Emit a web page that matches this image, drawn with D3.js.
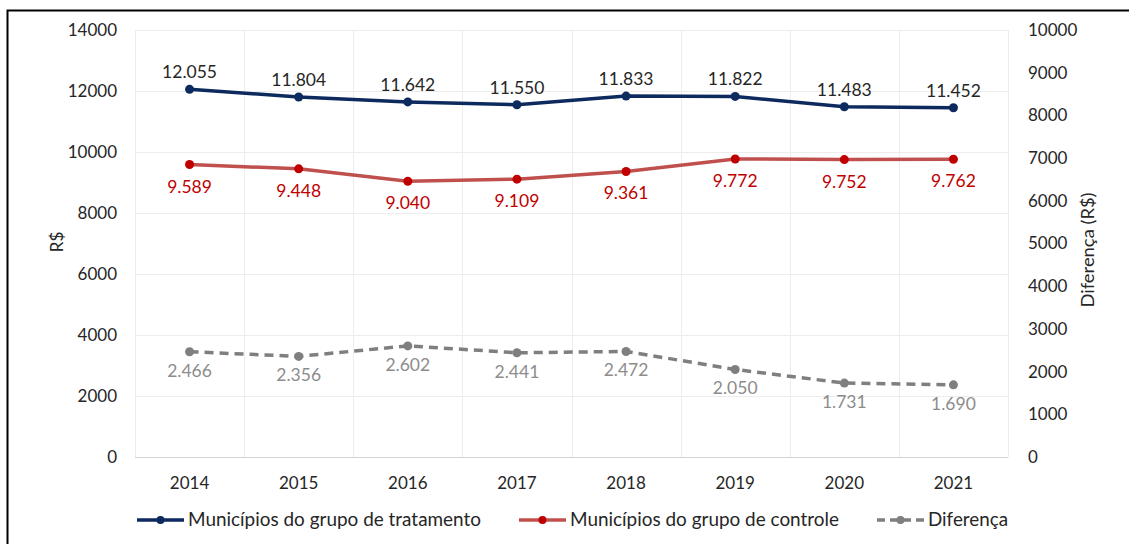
<!DOCTYPE html>
<html>
<head>
<meta charset="utf-8">
<script src="https://cdn.jsdelivr.net/npm/d3@7"></script>
<style>
  html, body { margin: 0; padding: 0; background: #ffffff; }
  svg { display: block; font-family: "Lato", "Open Sans", sans-serif; }
</style>
</head>
<body>
<svg id="chart" width="1129" height="544"></svg>
<script>
// Anos e séries (R$)
const years = ["2014", "2015", "2016", "2017", "2018", "2019", "2020", "2021"];
const tratamento = [12055, 11804, 11642, 11550, 11833, 11822, 11483, 11452];
const controle = [9589, 9448, 9040, 9109, 9361, 9772, 9752, 9762];
const diferenca = [2466, 2356, 2602, 2441, 2472, 2050, 1731, 1690];
const leftTicks = [0, 2000, 4000, 6000, 8000, 10000, 12000, 14000];
const rightTicks = [0, 1000, 2000, 3000, 4000, 5000, 6000, 7000, 8000, 9000, 10000];
const seriesNames = ["Municípios do grupo de tratamento", "Municípios do grupo de controle", "Diferença"];

const fmt = v => d3.format(",")(v).replace(/,/g, ".");

const svg = d3.select("#chart");
const W = 1129, H = 544;
const plot = { left: 135, right: 1008, top: 30, bottom: 457 };
const textColor = "#262626";
const tickSize = 17;

// moldura externa
svg.append("rect")
  .attr("x", 7.5).attr("y", 10.5)
  .attr("width", W + 20).attr("height", H + 20)
  .attr("fill", "none").attr("stroke", "#000").attr("stroke-width", 2);

const x = d3.scaleBand().domain(years).range([plot.left, plot.right]);
const yL = d3.scaleLinear().domain([0, 14000]).range([plot.bottom, plot.top]);
const yR = d3.scaleLinear().domain([0, 10000]).range([plot.bottom, plot.top]);

// grade horizontal
svg.append("g").selectAll("line").data(leftTicks).join("line")
  .attr("x1", plot.left).attr("x2", plot.right)
  .attr("y1", d => Math.round(yL(d)) + 0.5).attr("y2", d => Math.round(yL(d)) + 0.5)
  .attr("stroke", d => d === 0 ? "#d4d4d4" : "#ededed").attr("stroke-width", 1);

// grade vertical nas divisões das categorias
const bounds = years.map(y => x(y)).concat([plot.right]);
svg.append("g").selectAll("line").data(bounds).join("line")
  .attr("x1", d => Math.round(d) + 0.5).attr("x2", d => Math.round(d) + 0.5)
  .attr("y1", plot.top).attr("y2", plot.bottom)
  .attr("stroke", "#ededed").attr("stroke-width", 1);

// eixo esquerdo
const axL = svg.append("g").attr("transform", `translate(${plot.left},0)`)
  .call(d3.axisLeft(yL).tickValues(leftTicks).tickSize(0).tickPadding(18).tickFormat(d3.format("d")));
axL.select(".domain").remove();
axL.selectAll("text").attr("font-size", tickSize).attr("fill", textColor).attr("font-family", "Lato");

// eixo direito
const axR = svg.append("g").attr("transform", `translate(${plot.right},0)`)
  .call(d3.axisRight(yR).tickValues(rightTicks).tickSize(0).tickPadding(20).tickFormat(d3.format("d")));
axR.select(".domain").remove();
axR.selectAll("text").attr("font-size", tickSize).attr("fill", textColor).attr("font-family", "Lato");

// eixo x
const axX = svg.append("g").attr("transform", `translate(0,${plot.bottom})`)
  .call(d3.axisBottom(x).tickSize(0).tickPadding(20));
axX.select(".domain").remove();
axX.selectAll("text").attr("font-size", tickSize).attr("fill", textColor).attr("font-family", "Lato");

// títulos dos eixos
svg.append("text").attr("transform", "translate(63,242) rotate(-90)")
  .attr("text-anchor", "middle").attr("font-size", tickSize).attr("fill", textColor).text("R$");
svg.append("text").attr("transform", "translate(1094,250) rotate(-90)")
  .attr("text-anchor", "middle").attr("font-size", tickSize).attr("fill", textColor)
  .attr("textLength", 115).attr("lengthAdjust", "spacingAndGlyphs").text("Diferença (R$)");

const cx = d => x(d) + x.bandwidth() / 2;

function drawSeries(values, yScale, opts) {
  const pts = years.map((yr, i) => [cx(yr), yScale(values[i])]);
  svg.append("path").datum(pts)
    .attr("d", d3.line())
    .attr("fill", "none")
    .attr("stroke", opts.line)
    .attr("stroke-width", opts.width)
    .attr("stroke-dasharray", opts.dash || null);
  svg.append("g").selectAll("circle").data(pts).join("circle")
    .attr("cx", d => d[0]).attr("cy", d => d[1]).attr("r", 4.5)
    .attr("fill", opts.marker);
  svg.append("g").selectAll("text").data(values).join("text")
    .attr("x", (d, i) => pts[i][0])
    .attr("y", (d, i) => pts[i][1] + opts.labelDy)
    .attr("text-anchor", "middle")
    .attr("font-size", 17.5)
    .attr("fill", opts.label)
    .text(d => fmt(d));
}

drawSeries(tratamento, yL, { line: "#0d2a5e", marker: "#0d2a5e", label: textColor, width: 3.5, labelDy: -11 });
drawSeries(controle, yL, { line: "#c0504d", marker: "#c00000", label: "#c00000", width: 3.5, labelDy: 28 });
drawSeries(diferenca, yR, { line: "#7f7f7f", marker: "#7f7f7f", label: "#8c8c8c", width: 3.5, dash: "9,6", labelDy: 25 });

// legenda
const legend = [
  { name: seriesNames[0], line: "#0d2a5e", marker: "#0d2a5e", dash: null, x: 137, w: 293 },
  { name: seriesNames[1], line: "#c0504d", marker: "#c00000", dash: null, x: 519, w: 269 },
  { name: seriesNames[2], line: "#7f7f7f", marker: "#7f7f7f", dash: "8,5", x: 877, w: 80 }
];
const lg = svg.append("g").selectAll("g").data(legend).join("g")
  .attr("transform", d => `translate(${d.x},520)`);
lg.append("line").attr("x1", 0).attr("x2", 47).attr("y1", 0).attr("y2", 0)
  .attr("stroke", d => d.line).attr("stroke-width", 3.5)
  .attr("stroke-dasharray", d => d.dash);
lg.append("circle").attr("cx", 23.5).attr("cy", 0).attr("r", 4).attr("fill", d => d.marker);
lg.append("text").attr("x", 51).attr("y", 6).attr("font-size", 18.5).attr("fill", textColor)
  .attr("textLength", d => d.w).attr("lengthAdjust", "spacingAndGlyphs")
  .text(d => d.name);
</script>
</body>
</html>
